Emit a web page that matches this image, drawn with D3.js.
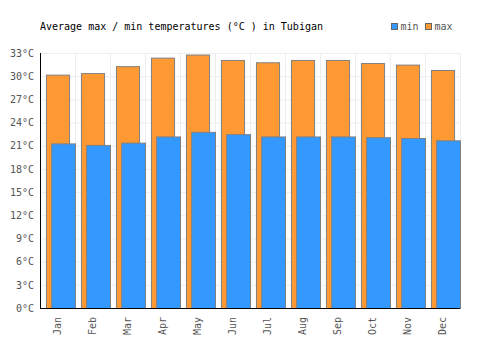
<!DOCTYPE html>
<html>
<head>
<meta charset="utf-8">
<script src="https://cdn.jsdelivr.net/npm/d3@7"></script>
<style>
  body { margin: 0; background: #fff; }
  text { font-family: "DejaVu Sans Mono", monospace; }
</style>
</head>
<body>
<svg id="chart"></svg>
<script>
const months = ["Jan", "Feb", "Mar", "Apr", "May", "Jun", "Jul", "Aug", "Sep", "Oct", "Nov", "Dec"];
const maxTemps = [30.2, 30.4, 31.3, 32.4, 32.8, 32.1, 31.8, 32.1, 32.1, 31.7, 31.5, 30.8];
const minTemps = [21.3, 21.1, 21.4, 22.2, 22.8, 22.5, 22.2, 22.2, 22.2, 22.1, 22.0, 21.7];
const yTicks = [0, 3, 6, 9, 12, 15, 18, 21, 24, 27, 30, 33];
const title = "Average max / min temperatures (°C ) in Tubigan";

const margin = {top: 53, right: 40, bottom: 42, left: 40};
const width = 500 - margin.left - margin.right;
const height = 350 - margin.top - margin.bottom;

const svg = d3.select("#chart").attr("width", 500).attr("height", 350);
const g = svg.append("g").attr("transform", `translate(${margin.left},${margin.top})`);

const x = d3.scaleBand().domain(months).range([0, width]);
const y = d3.scaleLinear().domain([0, 33]).range([height, 0]);

// grid
g.append("g").selectAll("line.h")
  .data(yTicks.slice(1))
  .join("line")
  .attr("x1", 0).attr("x2", width)
  .attr("y1", d => y(d) + 0.5).attr("y2", d => y(d) + 0.5)
  .attr("stroke", "#eeeeee");
g.append("g").selectAll("line.v")
  .data(months)
  .join("line")
  .attr("x1", d => x(d) + x.bandwidth() + 0.5).attr("x2", d => x(d) + x.bandwidth() + 0.5)
  .attr("y1", 0).attr("y2", height)
  .attr("stroke", "#eeeeee");

const bw = x.bandwidth();

// max bars
g.append("g").selectAll("rect")
  .data(months)
  .join("rect")
  .attr("x", (d, i) => x(d) + bw * 0.17 + 0.5)
  .attr("y", (d, i) => y(maxTemps[i]) + 0.5)
  .attr("width", bw * 0.66)
  .attr("height", (d, i) => height - y(maxTemps[i]))
  .attr("fill", "#ff9933")
  .attr("stroke", "#808080")
  .attr("stroke-width", 1);

// min bars
g.append("g").selectAll("rect")
  .data(months)
  .join("rect")
  .attr("x", (d, i) => x(d) + bw * 0.32 + 0.5)
  .attr("y", (d, i) => y(minTemps[i]) + 0.5)
  .attr("width", bw * 0.68)
  .attr("height", (d, i) => height - y(minTemps[i]))
  .attr("fill", "#3399ff")
  .attr("stroke", "#808080")
  .attr("stroke-width", 1);

// axes
const yAxis = g.append("g")
  .call(d3.axisLeft(y).tickValues(yTicks).tickSize(0).tickPadding(6).tickFormat(d => d + "°C"));
yAxis.select(".domain").attr("stroke", "#000").attr("d", `M0.5,0V${height}`);
yAxis.selectAll("text").attr("fill", "#555").style("font-size", "10px").style("font-family", "DejaVu Sans Mono, monospace");

const xAxis = g.append("g")
  .attr("transform", `translate(0,${height})`)
  .call(d3.axisBottom(x).tickSize(0));
xAxis.select(".domain").attr("stroke", "#000").attr("d", `M0,0.5H${width}`);
xAxis.selectAll("text")
  .attr("fill", "#555")
  .style("font-size", "10px")
  .style("font-family", "DejaVu Sans Mono, monospace")
  .attr("transform", "rotate(-90)")
  .attr("text-anchor", "end")
  .attr("x", -9)
  .attr("y", 0)
  .attr("dx", 0)
  .attr("dy", "0.35em");

// title
svg.append("text")
  .attr("x", 40).attr("y", 30)
  .style("font-size", "10px")
  .attr("fill", "#000")
  .text(title);

// legend
const legend = svg.append("g");
const items = [{name: "min", color: "#3399ff", x: 391}, {name: "max", color: "#ff9933", x: 425}];
legend.selectAll("rect")
  .data(items)
  .join("rect")
  .attr("x", d => d.x + 0.5).attr("y", 23.5)
  .attr("width", 6).attr("height", 6)
  .attr("fill", d => d.color)
  .attr("stroke", "#666");
legend.selectAll("text")
  .data(items)
  .join("text")
  .attr("x", d => d.x + 9.5).attr("y", 30)
  .attr("fill", "#555")
  .style("font-size", "10px")
  .text(d => d.name);
</script>
</body>
</html>
